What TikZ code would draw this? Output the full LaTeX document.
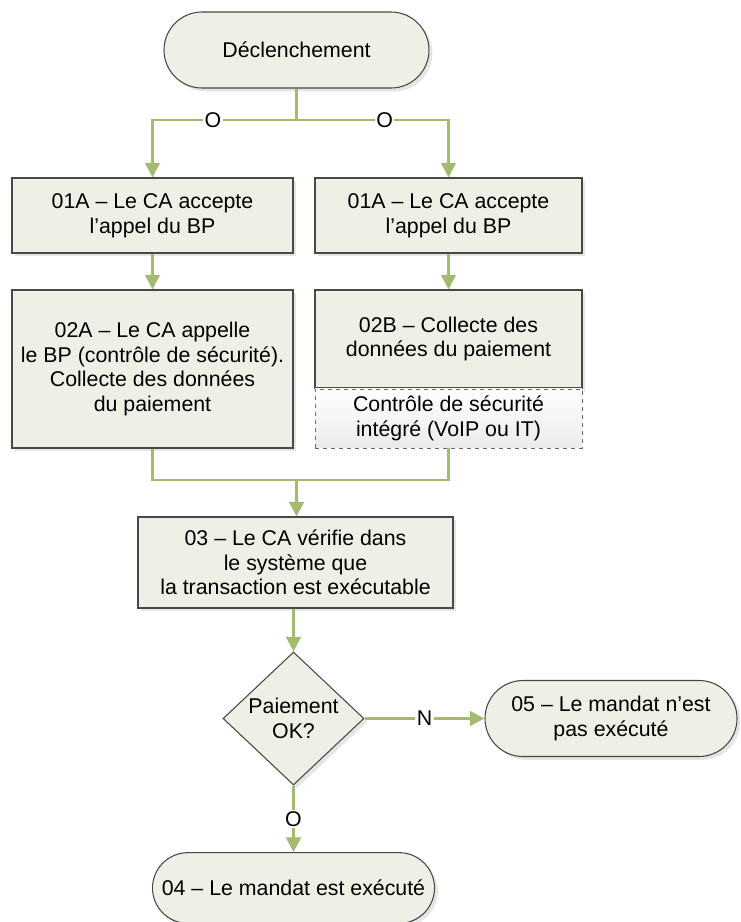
\documentclass[tikz,border=0pt]{standalone}
\usepackage{fontspec}
\setmainfont{Liberation Sans}
\usetikzlibrary{arrows.meta,shapes.misc,shapes.geometric,shadows}

\definecolor{boxfill}{RGB}{238,240,230}
\definecolor{boxline}{RGB}{72,72,72}
\definecolor{flowgreen}{RGB}{163,187,112}

\tikzset{
  every node/.style={font=\fontsize{16pt}{18.4pt}\selectfont, text=black},
  softshadow/.style={drop shadow={shadow xshift=2.5pt, shadow yshift=-2.5pt, fill=black, opacity=0.10}},
  procbox/.style={rectangle, draw=boxline, line width=0.8pt, fill=boxfill, align=center, inner sep=0pt, softshadow},
  termbox/.style={rounded rectangle, draw=boxline, line width=0.8pt, fill=boxfill, align=center, inner sep=0pt, softshadow},
  notebox/.style={rectangle, draw=boxline!80, dashed, line width=0.6pt, top color=white, bottom color=black!8, align=center, inner sep=0pt},
  decision/.style={diamond, draw=boxline, line width=0.8pt, fill=boxfill, inner sep=0pt, softshadow},
  flow/.style={draw=flowgreen, line width=2.2pt},
  flowarrow/.style={flow, -{Triangle[length=11pt, width=11pt]}},
  lbl/.style={fill=white, inner sep=1pt}
}

\begin{document}
\begin{tikzpicture}[x=0.75pt, y=-0.75pt]
  \useasboundingbox (0,0) rectangle (740,922);

  % Shapes
  \node[termbox, minimum width=198.75pt, minimum height=57pt] (start) at (296.5,50) {Déclenchement};

  \node[procbox, minimum width=210.75pt, minimum height=56.25pt] (a1) at (152.5,215.5) {01A – Le CA accepte\\l’appel du BP};
  \node[procbox, minimum width=200.25pt, minimum height=56.25pt] (b1) at (448.5,215.5) {01A – Le CA accepte\\l’appel du BP};

  \node[procbox, minimum width=210.75pt, minimum height=118.5pt] (a2) at (152.5,369) {02A – Le CA appelle\\le BP (contrôle de sécurité).\\Collecte des données\\du paiement};
  \node[procbox, minimum width=200.25pt, minimum height=73.5pt] (b2) at (448.5,339) {02B – Collecte des\\données du paiement};
  \node[notebox, minimum width=200.25pt, minimum height=44.25pt, anchor=north] (b2s) at (b2.south) {Contrôle de sécurité\\intégré (VoIP ou IT)};

  \node[procbox, minimum width=236.25pt, minimum height=68.25pt] (c3) at (295.5,562.5) {03 – Le CA vérifie dans\\le système que\\la transaction est exécutable};

  \node[decision, minimum width=105.75pt, minimum height=99.75pt] (dec) at (293.5,718.5) {};
  \node[align=center] (dectext) at (dec.center) {Paiement\\OK?};

  \node[termbox, minimum width=189pt, minimum height=57pt] (end05) at (611,718.5) {05 – Le mandat n’est\\pas exécuté};
  \node[termbox, minimum width=211.5pt, minimum height=53pt] (end04) at (293.5,888) {04 – Le mandat est exécuté};

  % Split below the trigger
  \coordinate (j1) at (start.south |- 0,120);
  \draw[flow] (start.south) -- (j1);
  \draw[flowarrow] (j1) -| node[lbl, pos=0.29] {O} (a1.north);
  \draw[flowarrow] (j1) -| node[lbl, pos=0.29] {O} (b1.north);

  \draw[flowarrow] (a1.south) -- (a2.north);
  \draw[flowarrow] (b1.south) -- (b2.north);

  % Merge into step 03
  \coordinate (m1) at (a2.south |- 0,480);
  \coordinate (m2) at (b2s.south |- 0,480);
  \coordinate (m3) at (start.south |- 0,480);
  \draw[flow] (a2.south) -- (m1) -- (m2) -- (b2s.south);
  \draw[flowarrow] (m3) -- (m3 |- c3.north);

  \coordinate (c3out) at (c3.south -| dec.north);
  \draw[flowarrow] (c3out) -- (dec.north);
  \draw[flowarrow] (dec.east) -- node[lbl] {N} (end05.west);
  \draw[flowarrow] (dec.south) -- node[lbl] {O} (end04.north);
\end{tikzpicture}
\end{document}
